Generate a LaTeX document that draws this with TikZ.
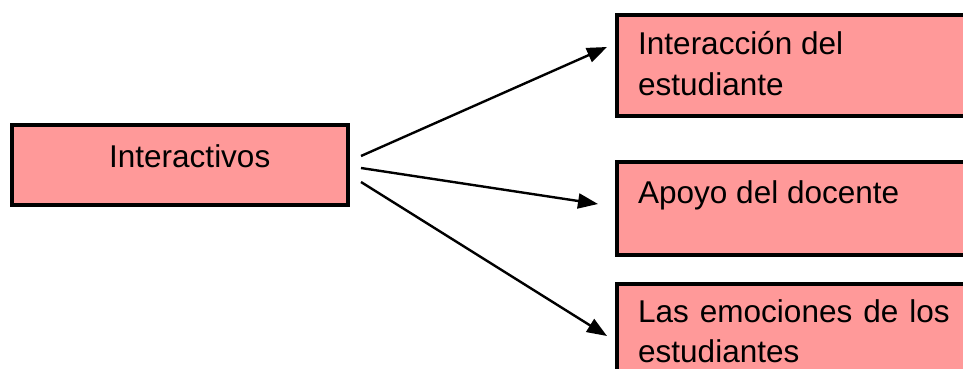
\documentclass[tikz,border=0pt]{standalone}
\usepackage{fontspec}
\setmainfont{Liberation Sans}
\usetikzlibrary{arrows.meta}
\definecolor{boxpink}{RGB}{255,153,153}
\tikzset{
  box/.style={draw=black, fill=boxpink, line width=4pt, rectangle, inner sep=0pt},
  lbl/.style={anchor=base west, inner sep=0pt, font=\fontsize{31.5}{40}\selectfont},
  conn/.style={line width=2.4pt, -{Triangle[length=20pt,width=15pt]}}
}
\begin{document}
\begin{tikzpicture}[x=1pt,y=-1pt]
\clip (0,0) rectangle (963,369);
\fill[white] (0,0) rectangle (963,369);
% boxes
\node[box, minimum width=336pt, minimum height=80pt] (src) at (180,165) {};
\node[box, minimum width=400pt, minimum height=101pt, anchor=north west] (t1) at (615,13) {};
\node[box, minimum width=400pt, minimum height=93pt, anchor=north west] (t2) at (615,160) {};
\node[box, minimum width=400pt, minimum height=120pt, anchor=north west] (t3) at (615,282) {};
% texts
\node[lbl] (srctxt) at (109,167) {Interactivos};
\node[lbl] (t1a) at (638,55) {Interacción del};
\node[lbl] (t1b) at (638,95) {estudiante};
\node[lbl] (t2a) at (638,203) {Apoyo del docente};
\node[lbl] (t3a) at (638,322) {Las\hspace{11pt}emociones\hspace{11pt}de\hspace{11pt}los};
\node[lbl] (t3b) at (638,362) {estudiantes};
% connector ends
\coordinate (s1) at (361,156);
\coordinate (s2) at (361,168);
\coordinate (s3) at (361,182);
\coordinate (e1) at (607,47);
\coordinate (e2) at (598,204);
\coordinate (e3) at (607,336);
\draw[conn] (s1) -- (e1);
\draw[conn] (s2) -- (e2);
\draw[conn] (s3) -- (e3);
\end{tikzpicture}
\end{document}
